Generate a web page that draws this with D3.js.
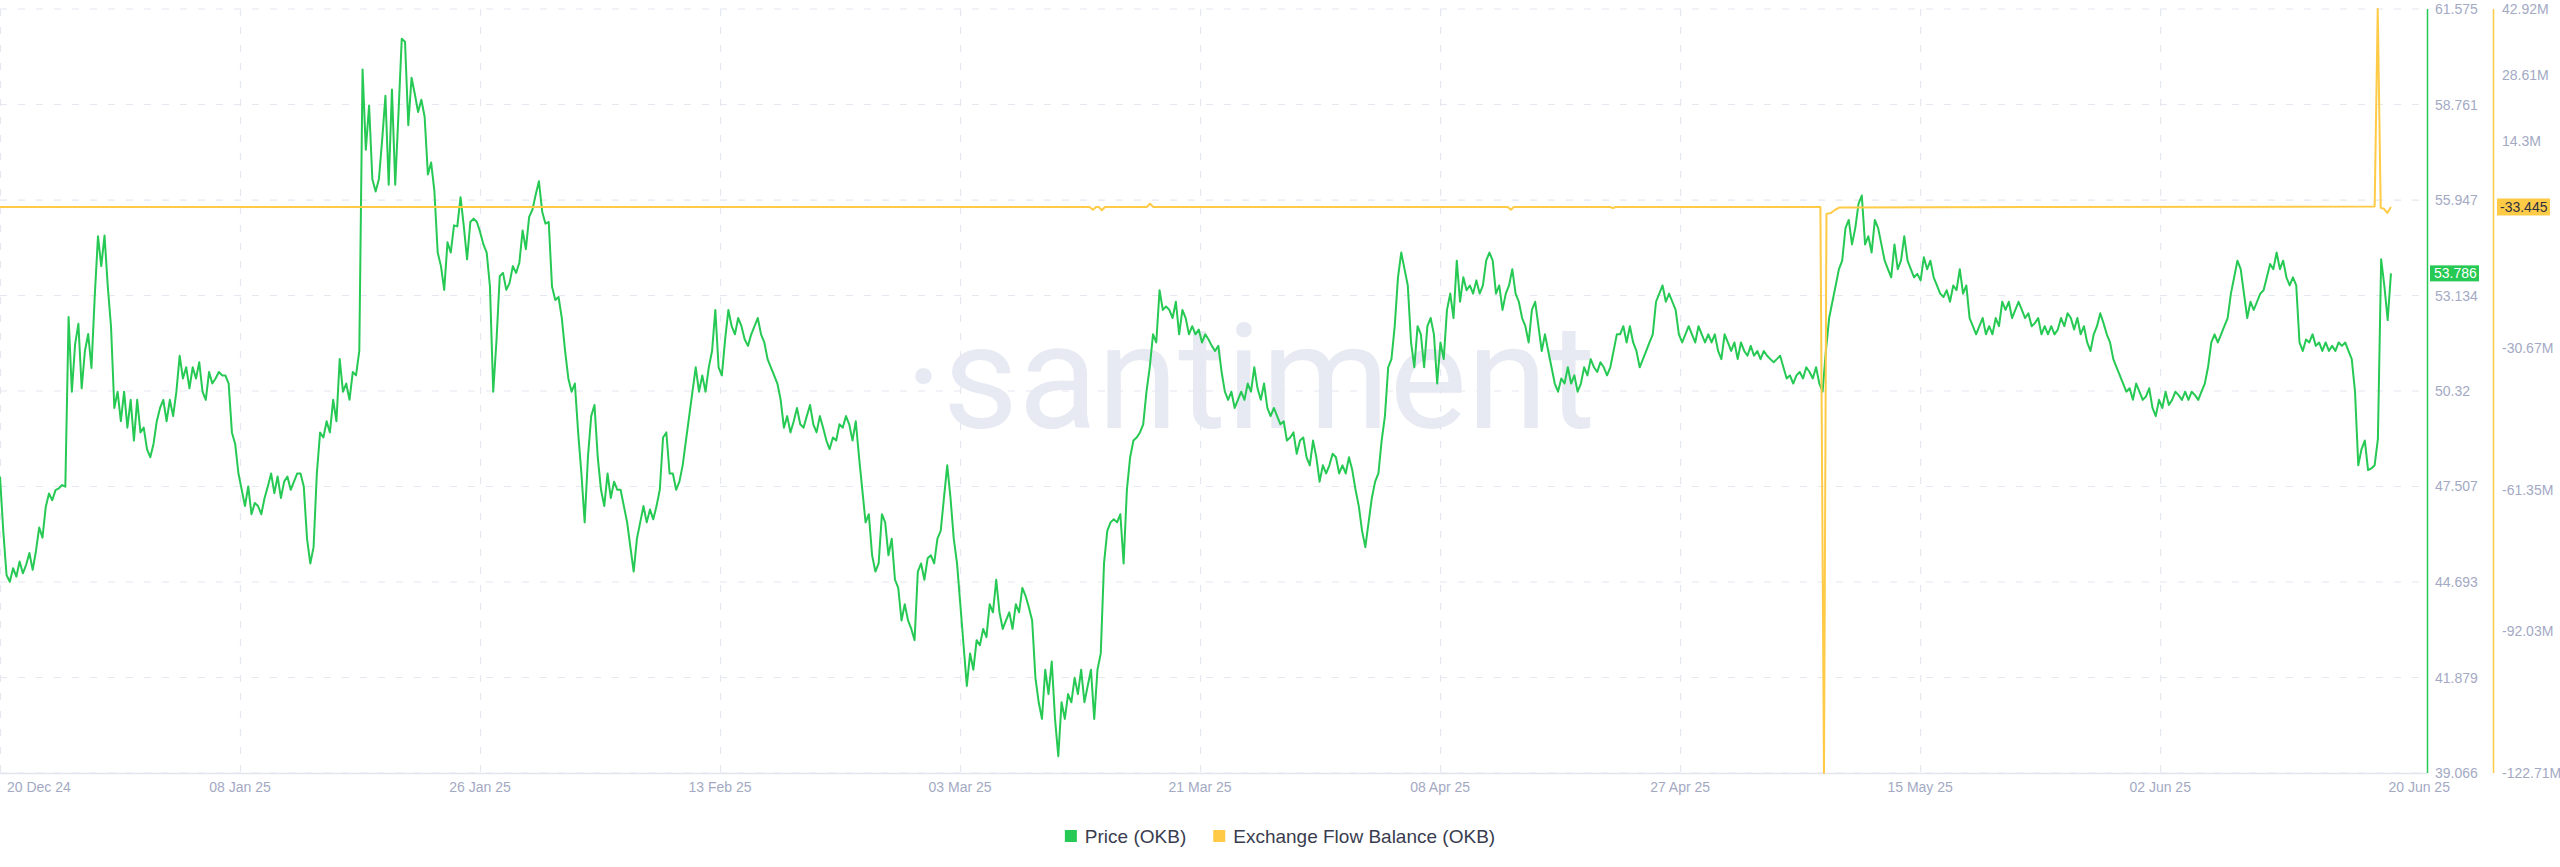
<!DOCTYPE html>
<html><head><meta charset="utf-8">
<script src="https://cdn.jsdelivr.net/npm/d3@7"></script>
<style>html,body{margin:0;padding:0;background:#fff;}svg{display:block}</style>
</head><body>
<svg id="chart" width="2560" height="867"></svg>
<script>
// ---------------- DATA ----------------
const xDomain = ["2024-12-20T21:36:00Z", "2025-06-22T15:06:00Z"];
const xTickDates = ["2024-12-20T21:36:00Z","2025-01-08T01:41:00Z","2025-01-26T05:46:00Z","2025-02-13T09:50:00Z",
  "2025-03-03T13:55:00Z","2025-03-21T18:00:00Z","2025-04-08T22:05:00Z","2025-04-27T02:10:00Z",
  "2025-05-15T06:14:00Z","2025-06-02T10:19:00Z","2025-06-20T14:24:00Z"];

// Price (OKB), equally spaced samples from priceStart to priceEnd
const priceStart = "2024-12-20T21:36:00Z";
const priceEnd = "2025-06-19T21:36:00Z";
const priceValues = [
47.80,46.20,44.90,44.70,45.10,44.85,45.30,44.95,45.20,45.55,
45.05,45.60,46.30,46.00,46.90,47.30,47.10,47.40,47.45,47.55,
47.50,52.50,50.30,51.70,52.30,50.40,51.50,52.00,51.00,53.10,
54.88,54.00,54.90,53.40,52.20,49.82,50.30,49.43,50.30,49.24,
50.06,48.86,50.06,49.10,49.24,48.61,48.37,48.76,49.43,49.82,
50.06,49.43,50.06,49.58,50.30,51.36,50.69,51.02,50.40,51.02,
50.69,51.17,50.30,50.06,50.88,50.54,50.69,50.88,50.78,50.78,
50.54,49.10,48.76,47.89,47.41,46.93,47.51,46.69,47.02,46.93,
46.69,47.17,47.51,47.89,47.31,47.80,47.17,47.65,47.80,47.41,
47.65,47.89,47.89,47.51,45.97,45.24,45.72,47.89,49.10,48.95,
49.43,49.10,50.06,49.43,51.26,50.30,50.54,50.06,50.88,50.78,
51.50,59.79,57.43,58.73,56.56,56.20,56.56,57.72,59.02,56.40,
59.20,56.40,58.50,60.70,60.61,58.15,59.55,59.07,58.54,58.90,
58.40,56.70,57.05,56.20,54.40,54.00,53.30,54.70,54.40,55.20,
55.17,56.03,55.17,54.20,55.30,55.40,55.30,55.00,54.64,54.40,
53.40,50.30,51.80,53.70,53.80,53.30,53.50,54.00,53.80,54.10,
55.05,54.50,55.45,55.66,56.10,56.50,55.60,55.25,55.30,53.40,
53.00,53.09,52.47,51.50,50.69,50.30,50.54,49.10,47.89,46.45,
48.37,49.58,49.91,48.37,47.41,46.93,47.89,47.17,47.65,47.41,
47.41,46.93,46.45,45.72,45.00,45.97,46.45,46.93,46.45,46.83,
46.54,46.93,47.41,48.95,49.10,47.89,47.89,47.41,47.65,48.13,
48.86,49.58,50.30,51.02,50.30,50.78,50.30,51.02,51.50,52.71,
51.02,50.78,51.84,52.71,52.23,51.99,52.47,52.23,51.84,51.65,
51.99,52.23,52.47,51.99,51.75,51.26,51.02,50.78,50.54,50.06,
49.24,49.58,49.10,49.43,49.82,49.34,49.24,49.58,49.91,49.34,
49.10,49.58,49.24,48.86,48.61,48.95,48.86,49.34,49.24,49.58,
49.34,48.86,49.43,48.37,47.41,46.45,46.69,45.48,45.00,45.24,
46.69,46.45,45.48,45.97,44.76,44.52,43.56,44.04,43.56,43.31,
42.98,45.00,45.24,44.76,45.39,45.48,45.24,45.97,46.20,47.17,
48.13,47.17,45.97,45.24,44.04,42.83,41.63,42.59,42.11,42.98,
42.83,43.31,43.07,44.04,43.80,44.76,43.80,43.31,43.56,43.80,
43.31,44.04,43.80,44.52,44.28,43.94,43.56,41.87,41.15,40.66,
42.11,41.39,42.35,40.66,39.56,41.15,40.66,41.39,41.15,41.87,
41.39,42.11,41.15,41.63,42.11,40.66,42.11,42.59,45.24,46.20,
46.45,46.54,46.45,46.69,45.24,47.41,48.37,48.86,48.95,49.10,
49.34,50.30,51.02,51.99,51.75,53.29,52.71,52.81,52.71,52.47,
52.95,51.99,52.71,52.47,51.99,52.23,51.99,52.13,51.75,51.99,
51.84,51.65,51.50,51.65,50.88,50.30,50.06,50.30,49.82,50.06,
50.30,50.06,50.54,50.30,51.02,50.40,50.06,50.54,49.82,49.58,
49.82,49.58,49.34,49.43,48.86,48.95,49.10,48.47,48.86,48.95,
48.37,48.13,48.86,48.37,47.65,48.13,47.89,48.13,48.47,48.37,
47.89,48.13,47.89,48.37,47.99,47.41,46.93,46.20,45.72,46.45,
47.17,47.65,47.89,48.86,49.58,51.02,51.26,52.23,53.67,54.40,
53.91,53.43,51.75,51.02,52.23,51.99,51.02,52.23,52.47,51.99,
50.54,51.75,51.26,52.71,53.19,52.47,54.16,52.95,53.67,53.29,
53.43,53.19,53.58,53.19,53.43,54.16,54.40,54.16,53.19,53.43,
52.71,53.19,53.43,53.91,53.19,52.95,52.47,52.23,51.75,52.71,
52.95,52.23,51.50,51.99,51.50,51.02,50.54,50.30,50.69,50.54,
51.02,50.54,50.78,50.30,50.54,51.02,50.78,51.26,51.02,50.88,
51.17,51.02,50.78,51.02,51.50,51.99,51.99,52.23,51.75,52.23,
51.75,51.50,51.02,51.26,51.50,51.75,51.99,52.95,53.19,53.43,
52.95,53.19,52.95,52.71,51.99,51.75,51.99,52.23,51.99,51.75,
52.23,51.99,51.75,51.99,51.75,51.99,51.50,51.26,51.99,51.75,
51.50,51.75,51.26,51.75,51.50,51.36,51.65,51.36,51.50,51.26,
51.50,51.36,51.26,51.17,51.26,51.36,51.02,50.69,50.78,50.54,
50.78,50.88,50.69,51.02,50.88,50.69,51.02,50.54,50.30,51.50,
52.47,52.95,53.43,53.91,54.16,55.12,55.36,54.64,55.12,55.84,
56.08,54.64,54.88,54.40,55.36,55.12,54.64,54.16,53.91,53.67,
54.64,53.91,54.16,54.88,54.16,53.91,53.67,53.77,53.58,54.26,
53.91,54.16,53.67,53.43,53.19,53.09,53.29,52.95,53.43,53.29,
53.91,53.19,53.43,52.47,52.23,51.99,52.23,52.47,51.99,52.23,
51.99,52.47,52.23,52.95,52.71,52.95,52.47,52.71,52.95,52.71,
52.47,52.61,52.23,52.32,52.47,51.99,52.23,51.99,52.23,51.99,
52.13,52.47,52.23,52.61,52.47,52.13,52.47,51.99,52.23,51.75,
51.50,51.99,52.23,52.61,52.32,51.99,51.75,51.26,51.02,50.78,
50.54,50.30,50.40,50.06,50.54,50.30,50.06,50.16,50.40,49.82,
49.58,50.06,49.82,50.30,49.91,50.06,50.30,50.20,50.06,50.30,
50.06,50.30,50.20,50.06,50.30,50.54,51.02,51.75,51.99,51.75,
51.99,52.23,52.47,53.19,53.67,54.16,53.91,53.19,52.47,52.95,
52.71,52.95,53.19,53.29,53.67,54.06,53.91,54.40,53.91,54.16,
53.67,53.43,53.67,53.43,51.75,51.50,51.84,51.75,51.99,51.65,
51.75,51.50,51.75,51.50,51.65,51.50,51.75,51.65,51.75,51.50,
51.26,50.30,48.13,48.61,48.86,47.99,48.04,48.13,48.90,54.20,
53.40,52.41,53.786
];

// Exchange Flow Balance (OKB)
const flowDates = [
"2024-12-20T21:36:00Z","2025-03-13T09:00:00Z","2025-03-13T15:24:00Z","2025-03-13T21:00:00Z",
"2025-03-14T02:00:00Z","2025-03-14T07:40:00Z","2025-03-14T13:00:00Z",
"2025-03-17T17:00:00Z","2025-03-17T23:00:00Z","2025-03-18T05:00:00Z",
"2025-04-14T01:00:00Z","2025-04-14T06:40:00Z","2025-04-14T12:00:00Z",
"2025-04-21T19:00:00Z","2025-04-22T00:00:00Z","2025-04-22T05:00:00Z",
"2025-05-07T17:00:00Z","2025-05-07T23:30:00Z","2025-05-08T04:00:00Z","2025-05-08T12:00:00Z",
"2025-05-08T20:00:00Z","2025-05-09T04:00:00Z",
"2025-06-18T16:00:00Z","2025-06-18T21:36:00Z","2025-06-19T03:00:00Z","2025-06-19T09:00:00Z",
"2025-06-19T15:00:00Z","2025-06-19T21:36:00Z"
];
const flowValues = [
0, 0, -0.6e6, 0,
0, -0.7e6, 0,
0, 0.7e6, 0,
0, -0.6e6, 0,
0, -0.25e6, 0,
0, -122.71e6, -1.5e6, -1.3e6,
-0.6e6, -0.1e6,
0.1e6, 42.92e6, -0.2e6, -0.4e6,
-1.3e6, -33.445
];

const priceTicks = [61.575, 58.761, 55.947, 53.134, 50.32, 47.507, 44.693, 41.879, 39.066];
const flowTicks = [42.92e6, 28.61e6, 14.3e6, -30.67e6, -61.35e6, -92.03e6, -122.71e6];
const flowTickLabels = ["42.92M", "28.61M", "14.3M", "-30.67M", "-61.35M", "-92.03M", "-122.71M"];
const lastPriceLabel = "53.786";
const lastFlowLabel = "-33.445";
const seriesNames = ["Price (OKB)", "Exchange Flow Balance (OKB)"];
const seriesColors = ["#26c953", "#ffcb47"];

// ---------------- CHART ----------------
const svg = d3.select("#chart");
const P = {left: 0, right: 2427, top: 9, bottom: 773};
const flowAxisX = 2493;
const tickColor = "#a3a9c3";
const gridColor = "#e6e8f1";
const font = "'Liberation Sans', Arial, Helvetica, sans-serif";

const x = d3.scaleUtc().domain(xDomain.map(d => new Date(d))).range([P.left, P.right]);
const yP = d3.scaleLinear().domain(d3.extent(priceTicks)).range([P.bottom, P.top]);
const yF = d3.scaleLinear().domain(d3.extent(flowTicks)).range([P.bottom, P.top]);

const t0 = new Date(priceStart).getTime(), t1 = new Date(priceEnd).getTime();
const priceData = priceValues.map((v, i) => ({date: new Date(t0 + (t1 - t0) * i / (priceValues.length - 1)), value: v}));
const flowData = flowDates.map((d, i) => ({date: new Date(d), value: flowValues[i]}));

// watermark
svg.append("text")
  .attr("x", 1250).attr("y", 428)
  .attr("text-anchor", "middle")
  .attr("font-family", "Roboto, 'Open Sans', sans-serif")
  .attr("font-weight", 400)
  .attr("font-size", 146)
  .attr("fill", "#e7eaf3")
  .text("·santiment");

// horizontal grid
const grid = svg.append("g");
grid.selectAll("line.h").data(priceTicks).join("line")
  .attr("x1", P.left).attr("x2", P.right - 8)
  .attr("y1", d => yP(d)).attr("y2", d => yP(d))
  .attr("stroke", gridColor).attr("stroke-width", 1.2)
  .attr("stroke-dasharray", "7,11");

// vertical grid
const tickDates = xTickDates.map(d => new Date(d));
grid.selectAll("line.v").data(tickDates.slice(0, -1)).join("line")
  .attr("x1", d => x(d) + 0.5).attr("x2", d => x(d) + 0.5)
  .attr("y1", P.top).attr("y2", P.bottom)
  .attr("stroke", gridColor).attr("stroke-width", 1.2)
  .attr("stroke-dasharray", "7,11");

// bottom axis
svg.append("line").attr("x1", P.left).attr("x2", P.right)
  .attr("y1", P.bottom + 0.5).attr("y2", P.bottom + 0.5)
  .attr("stroke", "#e3e5ee").attr("stroke-width", 1.5);

const fmt = d3.utcFormat("%d %b %y");
svg.append("g").selectAll("text").data(tickDates).join("text")
  .attr("x", (d, i) => i === 0 ? x(d) + 7 : (i === tickDates.length - 1 ? x(d) + 19 : x(d)))
  .attr("y", 792)
  .attr("text-anchor", (d, i) => i === 0 ? "start" : "middle")
  .attr("font-family", font).attr("font-size", 14)
  .attr("fill", tickColor)
  .text(d => fmt(d));

// lines
svg.append("path").datum(priceData)
  .attr("fill", "none").attr("stroke", seriesColors[0]).attr("stroke-width", 2)
  .attr("stroke-linejoin", "round")
  .attr("d", d3.line().x(d => x(d.date)).y(d => yP(d.value)));

svg.append("path").datum(flowData)
  .attr("fill", "none").attr("stroke", seriesColors[1]).attr("stroke-width", 2)
  .attr("stroke-linejoin", "round")
  .attr("d", d3.line().x(d => x(d.date)).y(d => yF(d.value)));

// right axes
svg.append("line").attr("x1", P.right + 0.5).attr("x2", P.right + 0.5)
  .attr("y1", P.top).attr("y2", P.bottom).attr("stroke", seriesColors[0]).attr("stroke-width", 1.5);
svg.append("line").attr("x1", flowAxisX + 0.5).attr("x2", flowAxisX + 0.5)
  .attr("y1", P.top).attr("y2", P.bottom).attr("stroke", seriesColors[1]).attr("stroke-width", 1.5);

svg.append("g").selectAll("text").data(priceTicks).join("text")
  .attr("x", P.right + 8).attr("y", d => yP(d))
  .attr("dominant-baseline", "central")
  .attr("font-family", font).attr("font-size", 14).attr("fill", tickColor)
  .text(d => d);

svg.append("g").selectAll("text").data(flowTicks).join("text")
  .attr("x", flowAxisX + 9).attr("y", d => yF(d))
  .attr("dominant-baseline", "central")
  .attr("font-family", font).attr("font-size", 14).attr("fill", tickColor)
  .text((d, i) => flowTickLabels[i]);

// last value tags
const lp = priceData[priceData.length - 1].value;
const lf = flowData[flowData.length - 1].value;
svg.append("rect").attr("x", P.right + 3).attr("y", yP(lp) - 8).attr("width", 49).attr("height", 16)
  .attr("fill", seriesColors[0]);
svg.append("text").attr("x", P.right + 7).attr("y", yP(lp)).attr("dominant-baseline", "central")
  .attr("font-family", font).attr("font-size", 14).attr("fill", "#ffffff").text(lastPriceLabel);
svg.append("rect").attr("x", flowAxisX + 4).attr("y", yF(lf) - 8.5).attr("width", 53).attr("height", 17)
  .attr("fill", seriesColors[1]);
svg.append("text").attr("x", flowAxisX + 7).attr("y", yF(lf)).attr("dominant-baseline", "central")
  .attr("font-family", font).attr("font-size", 14).attr("fill", "#2f3142").text(lastFlowLabel);

// legend
const legend = svg.append("g");
let lx = 0;
seriesNames.forEach((name, i) => {
  const g = legend.append("g").attr("transform", `translate(${lx},0)`);
  g.append("rect").attr("x", 0).attr("y", -6).attr("width", 12).attr("height", 12).attr("fill", seriesColors[i]);
  const t = g.append("text").attr("x", 20).attr("y", 0).attr("dominant-baseline", "central")
    .attr("font-family", font).attr("font-size", 19).attr("fill", "#3a3d4f").text(name);
  const w = 20 + t.node().getComputedTextLength();
  lx += w + 27;
});
const totalW = lx - 27;
legend.attr("transform", `translate(${1280 - totalW / 2},836)`);
</script>
</body></html>
